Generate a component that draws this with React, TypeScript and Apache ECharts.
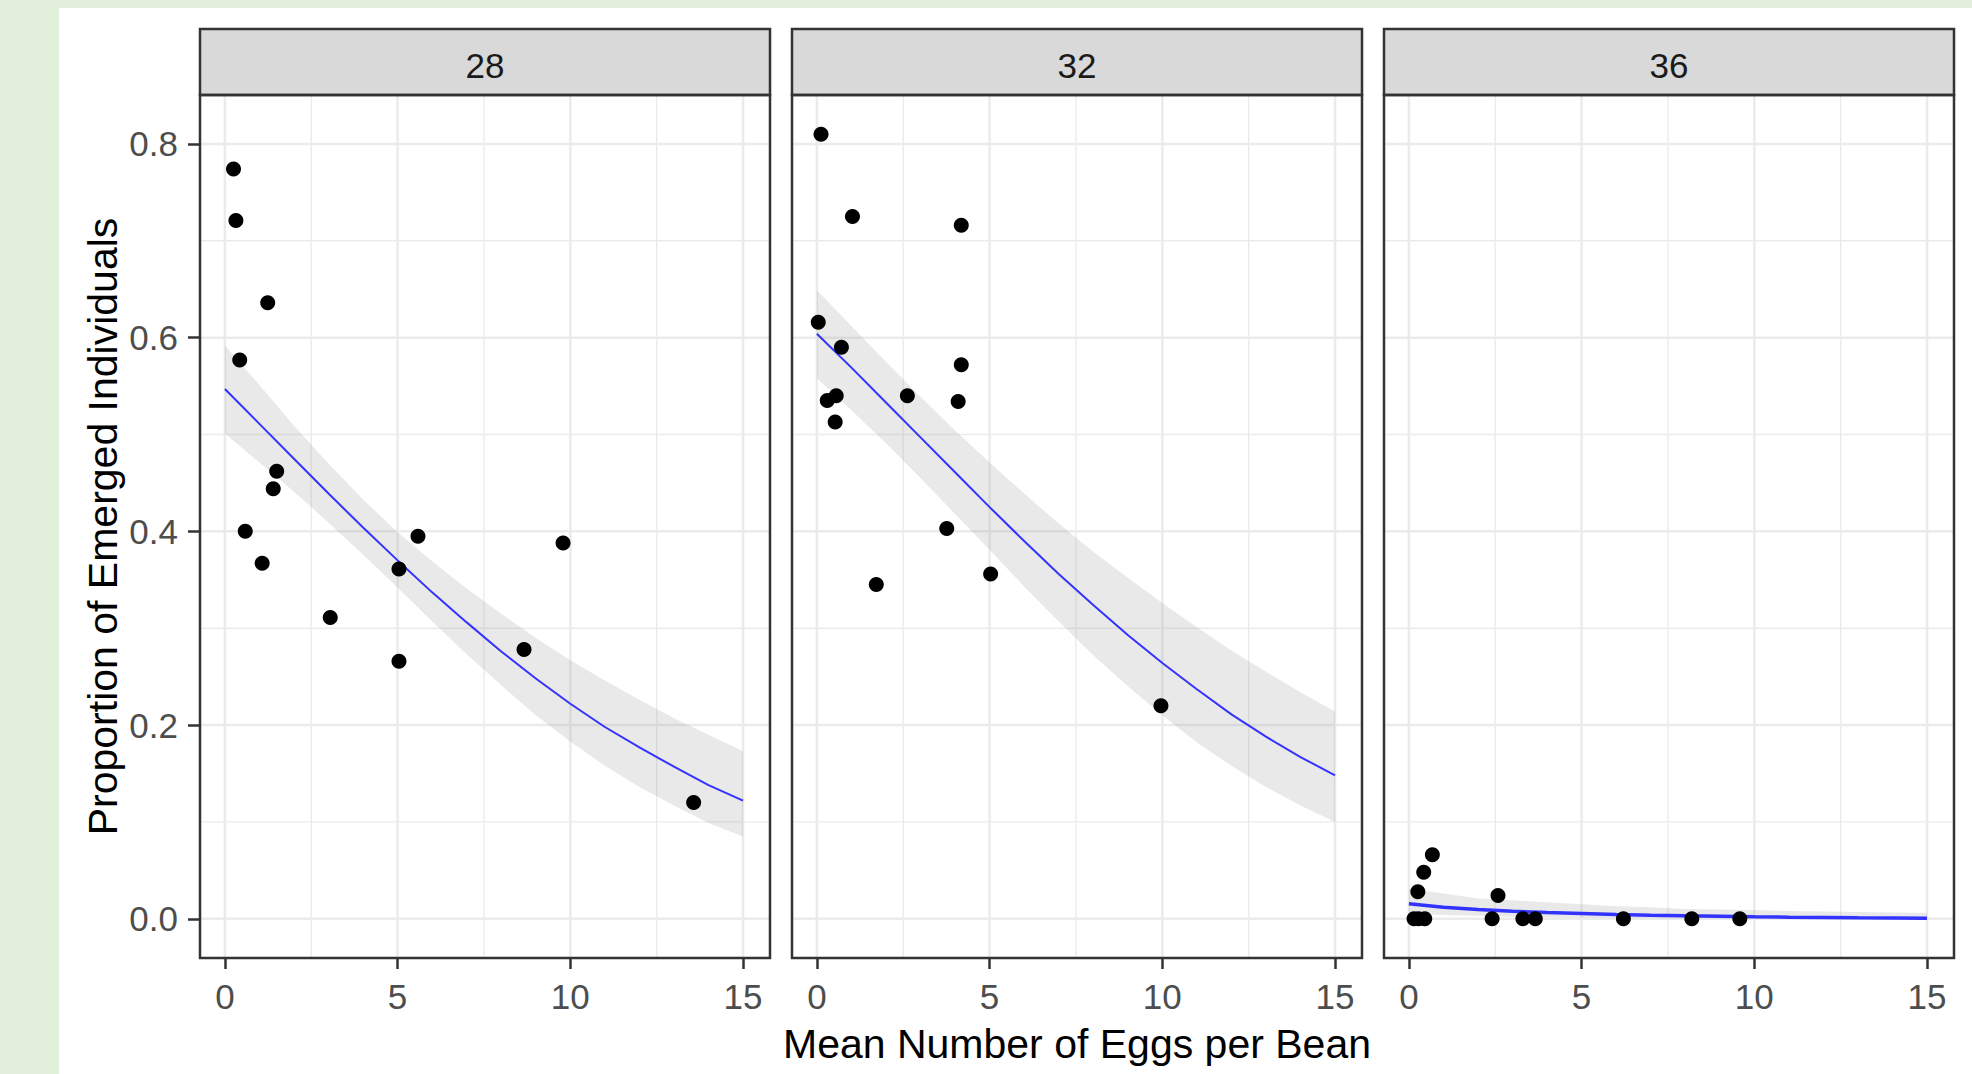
import React, { useEffect, useRef } from 'react';
import * as echarts from 'echarts';

// ---- data ----
const facets = ['28', '32', '36'];
const xTicks = [0, 5, 10, 15];
const xMinor = [2.5, 7.5, 12.5];
const yTicks = [0, 0.2, 0.4, 0.6, 0.8];
const yMinor = [0.1, 0.3, 0.5, 0.7];

const x28 = [0.25, 0.32, 1.24, 0.43, 1.5, 1.4, 0.59, 1.08, 3.05, 5.04, 5.59, 5.04, 9.79, 8.66, 13.57];
const y28 = [0.774, 0.721, 0.636, 0.577, 0.462, 0.444, 0.4, 0.367, 0.311, 0.361, 0.395, 0.266, 0.388, 0.278, 0.12];

const x32 = [0.12, 1.03, 4.18, 0.04, 0.71, 4.18, 0.3, 0.56, 0.53, 2.62, 4.09, 3.76, 1.72, 5.03, 9.96];
const y32 = [0.81, 0.725, 0.716, 0.616, 0.59, 0.572, 0.535, 0.54, 0.513, 0.54, 0.534, 0.403, 0.345, 0.356, 0.22];

const x36 = [0.68, 0.43, 0.26, 2.58, 0.15, 0.28, 0.46, 2.41, 3.3, 3.66, 6.21, 8.19, 9.58];
const y36 = [0.066, 0.048, 0.028, 0.024, 0, 0, 0, 0, 0, 0, 0, 0, 0];

const fitX = [0, 1, 2, 3, 4, 5, 6, 7, 8, 9, 10, 11, 12, 13, 14, 15];
const fit28 = [0.547, 0.511, 0.475, 0.439, 0.404, 0.37, 0.337, 0.306, 0.276, 0.248, 0.222, 0.198, 0.177, 0.157, 0.138, 0.122];
const lo28 = [0.501, 0.471, 0.441, 0.409, 0.376, 0.342, 0.307, 0.273, 0.241, 0.21, 0.183, 0.158, 0.136, 0.117, 0.099, 0.085];
const hi28 = [0.592, 0.551, 0.509, 0.47, 0.433, 0.399, 0.369, 0.341, 0.315, 0.29, 0.267, 0.246, 0.226, 0.207, 0.19, 0.173];

const fit32 = [0.604, 0.569, 0.533, 0.497, 0.461, 0.425, 0.39, 0.356, 0.324, 0.293, 0.264, 0.237, 0.211, 0.188, 0.167, 0.148];
const lo32 = [0.558, 0.525, 0.491, 0.455, 0.418, 0.381, 0.343, 0.307, 0.272, 0.24, 0.21, 0.182, 0.158, 0.136, 0.117, 0.1];
const hi32 = [0.649, 0.612, 0.575, 0.539, 0.504, 0.471, 0.439, 0.408, 0.379, 0.352, 0.326, 0.301, 0.277, 0.255, 0.234, 0.214];

const fit36 = [0.0155, 0.012, 0.0095, 0.0078, 0.0065, 0.0055, 0.0045, 0.0037, 0.003, 0.0025, 0.002, 0.0016, 0.0013, 0.001, 0.0008, 0.0006];
const lo36 = [0.005, 0.004, 0.003, 0.002, 0.0015, 0.001, 0.0008, 0.0005, 0.0004, 0.0003, 0.0002, 0.0002, 0.0001, 0.0001, 0.0001, 0.0001];
const hi36 = [0.031, 0.026, 0.021, 0.019, 0.017, 0.015, 0.013, 0.012, 0.01, 0.0095, 0.009, 0.008, 0.0075, 0.007, 0.0065, 0.006];

const xTitle = 'Mean Number of Eggs per Bean';
const yTitle = 'Proportion of Emerged Individuals';

// ---- layout / style ----
const X_MIN = -0.72;
const X_MAX = 15.78;
const Y_MIN = -0.0405;
const Y_MAX = 0.8505;
const LEFTS = [200, 792, 1384];
const PANEL_W = 570;
const PANEL_TOP = 95;
const PANEL_H = 863;
const STRIP_TOP = 29;
const STRIP_H = 66;
const FONT = 'Liberation Sans, Arial, sans-serif';
const DARK = '#333333';
const GRID = '#ebebeb';
const BLUE = '#3333ff';

const panels = [
  { xs: x28, ys: y28, fit: fit28, lo: lo28, hi: hi28, lw: 2 },
  { xs: x32, ys: y32, fit: fit32, lo: lo32, hi: hi32, lw: 2 },
  { xs: x36, ys: y36, fit: fit36, lo: lo36, hi: hi36, lw: 3.5 },
];

function buildOption() {
  const grid: any[] = [];
  const xAxis: any[] = [];
  const yAxis: any[] = [];
  const series: any[] = [];
  const graphic: any[] = [];

  panels.forEach((p, i) => {
    grid.push({ left: LEFTS[i], top: PANEL_TOP, width: PANEL_W, height: PANEL_H, show: false });
    xAxis.push({
      type: 'value',
      gridIndex: i,
      position: 'bottom',
      min: X_MIN,
      max: X_MAX,
      splitLine: { show: false },
      minorSplitLine: { show: false },
      axisLine: { show: false, onZero: false },
      axisTick: { show: true, customValues: xTicks, length: 11, lineStyle: { color: DARK, width: 2.5 } },
      axisLabel: {
        show: true,
        customValues: xTicks,
        margin: 21,
        fontSize: 35,
        color: '#4d4d4d',
        fontFamily: FONT,
        formatter: (v: number) => String(v),
      },
    });
    yAxis.push({
      type: 'value',
      gridIndex: i,
      position: 'left',
      min: Y_MIN,
      max: Y_MAX,
      splitLine: { show: false },
      minorSplitLine: { show: false },
      axisLine: { show: false, onZero: false },
      axisTick: { show: i === 0, customValues: yTicks, length: 12, lineStyle: { color: DARK, width: 2.5 } },
      axisLabel: {
        show: i === 0,
        customValues: yTicks,
        margin: 22,
        fontSize: 35,
        color: '#4d4d4d',
        fontFamily: FONT,
        formatter: (v: number) => v.toFixed(1),
      },
    });

    const gl = (data: number[][], width: number) => ({
      type: 'line',
      xAxisIndex: i,
      yAxisIndex: i,
      data,
      symbol: 'none',
      silent: true,
      z: 1,
      lineStyle: { color: GRID, width },
    });
    xMinor.forEach((v) => series.push(gl([[v, Y_MIN], [v, Y_MAX]], 1.4)));
    yMinor.forEach((v) => series.push(gl([[X_MIN, v], [X_MAX, v]], 1.4)));
    xTicks.forEach((v) => series.push(gl([[v, Y_MIN], [v, Y_MAX]], 2.5)));
    yTicks.forEach((v) => series.push(gl([[X_MIN, v], [X_MAX, v]], 2.5)));

    // confidence band as a polygon through the axis scales
    series.push({
      type: 'custom',
      xAxisIndex: i,
      yAxisIndex: i,
      silent: true,
      z: 2,
      data: [[fitX[0], p.lo[0]]],
      renderItem: (_params: any, api: any) => {
        const upper = fitX.map((x, k) => api.coord([x, p.hi[k]]));
        const lower = fitX.map((x, k) => api.coord([x, p.lo[k]])).reverse();
        return {
          type: 'polygon',
          shape: { points: upper.concat(lower) },
          style: { fill: 'rgba(153,153,153,0.22)', stroke: 'none' },
        };
      },
    });
    series.push({
      type: 'line',
      xAxisIndex: i,
      yAxisIndex: i,
      data: fitX.map((x, k) => [x, p.fit[k]]),
      symbol: 'none',
      silent: true,
      z: 3,
      lineStyle: { color: BLUE, width: p.lw },
    });
    series.push({
      type: 'scatter',
      xAxisIndex: i,
      yAxisIndex: i,
      data: p.xs.map((x, k) => [x, p.ys[k]]),
      symbol: 'circle',
      symbolSize: 15,
      z: 4,
      itemStyle: { color: '#000000', opacity: 1 },
    });

    // strip
    graphic.push({
      type: 'rect',
      z: 100,
      shape: { x: LEFTS[i], y: STRIP_TOP, width: PANEL_W, height: STRIP_H },
      style: { fill: '#d9d9d9', stroke: DARK, lineWidth: 2.5 },
    });
    graphic.push({
      type: 'text',
      z: 101,
      x: LEFTS[i] + PANEL_W / 2,
      y: STRIP_TOP + STRIP_H / 2 + 3,
      style: {
        text: facets[i],
        fill: '#1a1a1a',
        fontSize: 35,
        fontFamily: FONT,
        align: 'center',
        verticalAlign: 'middle',
      },
    });
    // panel border
    graphic.push({
      type: 'rect',
      z: 100,
      shape: { x: LEFTS[i], y: PANEL_TOP, width: PANEL_W, height: PANEL_H },
      style: { fill: 'none', stroke: DARK, lineWidth: 2.5 },
    });
  });

  graphic.push({
    type: 'text',
    z: 101,
    x: (LEFTS[0] + LEFTS[2] + PANEL_W) / 2,
    y: 1044,
    style: {
      text: xTitle,
      fill: '#000000',
      fontSize: 41,
      fontFamily: FONT,
      align: 'center',
      verticalAlign: 'middle',
    },
  });
  graphic.push({
    type: 'text',
    z: 101,
    x: 103,
    y: PANEL_TOP + PANEL_H / 2,
    rotation: Math.PI / 2,
    style: {
      text: yTitle,
      fill: '#000000',
      fontSize: 41,
      fontFamily: FONT,
      align: 'center',
      verticalAlign: 'middle',
    },
  });

  return { animation: false, grid, xAxis, yAxis, series, graphic };
}

export default function App() {
  const ref = useRef<HTMLDivElement>(null);
  useEffect(() => {
    const chart = echarts.init(ref.current as HTMLDivElement, null, { renderer: 'svg' });
    chart.setOption(buildOption() as any);
    return () => chart.dispose();
  }, []);
  return (
    <div style={{ position: 'fixed', left: 0, top: 0, width: 1972, height: 1074, background: '#e2efda' }}>
      <div style={{ position: 'absolute', left: 59, top: 8, right: 0, bottom: 0, background: '#ffffff' }} />
      <div ref={ref} style={{ position: 'absolute', left: 0, top: 0, width: 1972, height: 1074 }} />
    </div>
  );
}
